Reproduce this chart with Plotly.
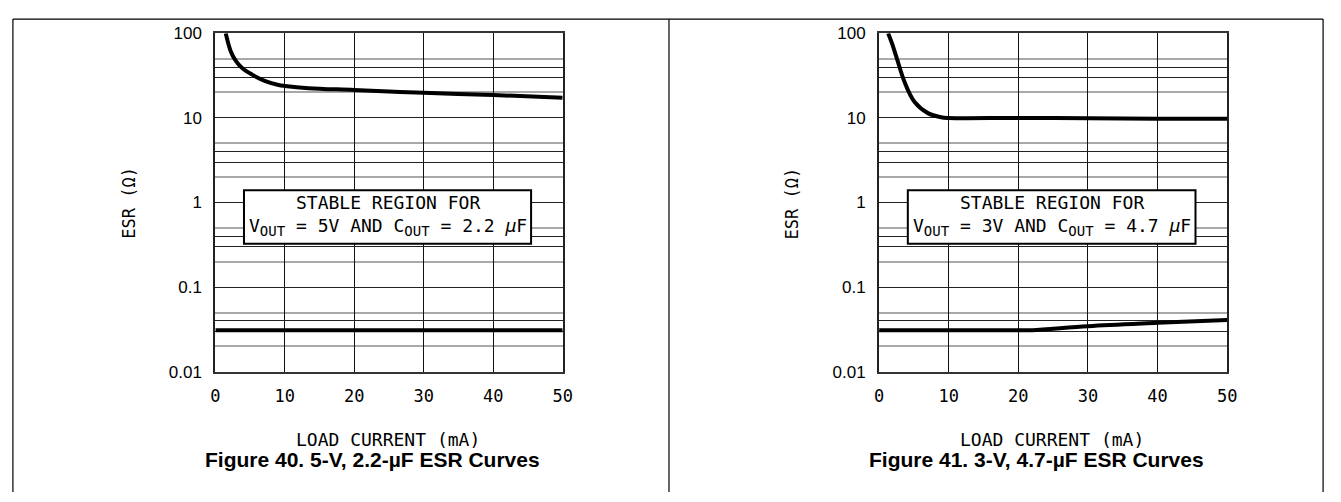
import plotly.graph_objects as go

# Figure 40 (5 V, 2.2 uF) - upper and lower ESR limits
f40_upper_x = [1.5, 2.2, 2.9, 3.9, 5.3, 7.2, 9.1, 10, 13.4, 20, 30, 40, 50]
f40_upper_y = [100, 62, 48, 38.6, 32.5, 27.2, 24.5, 23.9, 22.5, 21.4, 19.8, 18.7, 17.3]
f40_lower_x = [0, 50]
f40_lower_y = [0.031, 0.031]

# Figure 41 (3 V, 4.7 uF)
f41_upper_x = [1.3, 1.9, 2.5, 3.7, 5.1, 7.0, 8.9, 10, 20, 30, 40, 50]
f41_upper_y = [100, 74, 52, 26, 15.4, 11.4, 10.2, 10, 10, 9.9, 9.8, 9.75]
f41_lower_x = [0, 10, 20, 22, 30, 40, 50]
f41_lower_y = [0.031, 0.031, 0.031, 0.031, 0.0345, 0.0378, 0.041]

x_ticks = [0, 10, 20, 30, 40, 50]
y_major = [0.01, 0.1, 1, 10, 100]
y_major_text = ["0.01", "0.1", "1", "10", "100"]
y_dark = [0.03, 0.04, 0.3, 0.4, 3, 4, 30, 40]
y_light = [0.02, 0.05, 0.2, 0.5, 2, 5, 20, 50]

captions = ["Figure 40. 5-V, 2.2-µF ESR Curves", "Figure 41. 3-V, 4.7-µF ESR Curves"]
SUB = '<sub><span style="font-size:14px">OUT</span></sub>'
box_text = [
    "STABLE REGION FOR<br>V" + SUB + " = 5V AND C" + SUB + " = 2.2 <i>µ</i>F",
    "STABLE REGION FOR<br>V" + SUB + " = 3V AND C" + SUB + " = 4.7 <i>µ</i>F",
]

W, H = 1341, 502
MONO = "DejaVu Sans Mono"


def px_x(p):
    return p / W


def px_y(p):
    return (H - p) / H


fig = go.Figure()
line = dict(color="black", width=4, shape="spline")
fig.add_trace(go.Scatter(x=f40_upper_x, y=f40_upper_y, mode="lines", line=line, xaxis="x", yaxis="y"))
fig.add_trace(go.Scatter(x=f40_lower_x, y=f40_lower_y, mode="lines", line=line, xaxis="x", yaxis="y"))
fig.add_trace(go.Scatter(x=f41_upper_x, y=f41_upper_y, mode="lines", line=line, xaxis="x2", yaxis="y2"))
fig.add_trace(go.Scatter(x=f41_lower_x, y=f41_lower_y, mode="lines", line=line, xaxis="x2", yaxis="y2"))

ydom = [px_y(377), px_y(25.3)]
plots = [(212.7, 564.0), (884.0, 1236.0)]

yvals = sorted(y_major + y_dark)
ytext = [y_major_text[y_major.index(v)] if v in y_major else "" for v in yvals]

layout = dict(
    width=W, height=H,
    margin=dict(l=0, r=0, t=0, b=0),
    paper_bgcolor="white", plot_bgcolor="white",
    showlegend=False,
)
for i, (x0, x1) in enumerate(plots):
    sfx = "" if i == 0 else str(i + 1)
    layout["xaxis" + sfx] = dict(
        domain=[px_x(x0), px_x(x1)], range=[0, 50], anchor="y" + sfx,
        tickvals=x_ticks, ticks="", showgrid=True, gridcolor="#111", gridwidth=1.3,
        zeroline=False, showline=True, mirror=True, linecolor="#333", linewidth=2,
        tickfont=dict(family=MONO, size=17, color="black"), ticklabelstandoff=8,
        fixedrange=True,
    )
    layout["yaxis" + sfx] = dict(
        domain=ydom, type="log", range=[-2, 2], anchor="x" + sfx,
        tickmode="array", tickvals=yvals, ticktext=ytext, ticks="",
        showgrid=True, gridcolor="#222", gridwidth=1,
        minor=dict(tickmode="array", tickvals=y_light, showgrid=True, gridcolor="#a8a8a8", gridwidth=1.5, ticks=""),
        zeroline=False, showline=True, mirror=True, linecolor="#222", linewidth=2,
        tickfont=dict(family="Liberation Sans", size=17, color="black"), ticklabelstandoff=8,
        fixedrange=True,
    )

shapes = []
annotations = []
for i, (x0, x1) in enumerate(plots):
    sfx = "" if i == 0 else str(i + 1)
    cx = (x0 + x1) / 2
    # stable region label box
    shapes.append(dict(type="rect", xref="x" + sfx + " domain", yref="y" + sfx + " domain",
                       x0=0.0825, x1=0.909, y0=0.378, y1=0.5366, layer="above",
                       fillcolor="white", line=dict(color="black", width=2)))
    annotations.append(dict(text=box_text[i], xref="x" + sfx + " domain", yref="y" + sfx + " domain",
                            x=0.496, y=0.462, showarrow=False, xanchor="center", yanchor="middle",
                            font=dict(family=MONO, size=18, color="black")))
    annotations.append(dict(text="ESR (Ω)", xref="paper", yref="paper", x=px_x(x0 - 87.7), y=px_y(201.7),
                            showarrow=False, textangle=-90, xanchor="center", yanchor="middle",
                            font=dict(family=MONO, size=17, color="black")))
    annotations.append(dict(text="LOAD CURRENT (mA)", xref="paper", yref="paper", x=px_x(cx - 1.5), y=px_y(447),
                            showarrow=False, xanchor="center", yanchor="middle",
                            font=dict(family=MONO, size=18, color="black")))
    annotations.append(dict(text="<b>" + captions[i] + "</b>", xref="paper", yref="paper", x=px_x(cx - 16.5),
                            y=px_y(468), showarrow=False, xanchor="center", yanchor="middle",
                            font=dict(family="Liberation Sans", size=21, color="black")))

# page frame lines
frame = dict(color="black", width=1.2)
shapes.append(dict(type="line", xref="paper", yref="paper", x0=px_x(8), x1=px_x(1333), y0=px_y(10.5), y1=px_y(10.5), line=frame))
for xp in [8, 671.5, 1333]:
    shapes.append(dict(type="line", xref="paper", yref="paper", x0=px_x(xp), x1=px_x(xp), y0=0, y1=px_y(10.5), line=frame))

layout["shapes"] = shapes
layout["annotations"] = annotations
fig.update_layout(**layout)

# drop the browser's default body margin (and any scrollbar) so the page lines up with the figure pixels
fig.write_html("out.html", config={"displayModeBar": False},
               post_script="document.body.style.margin='0';document.body.style.overflow='hidden';")
